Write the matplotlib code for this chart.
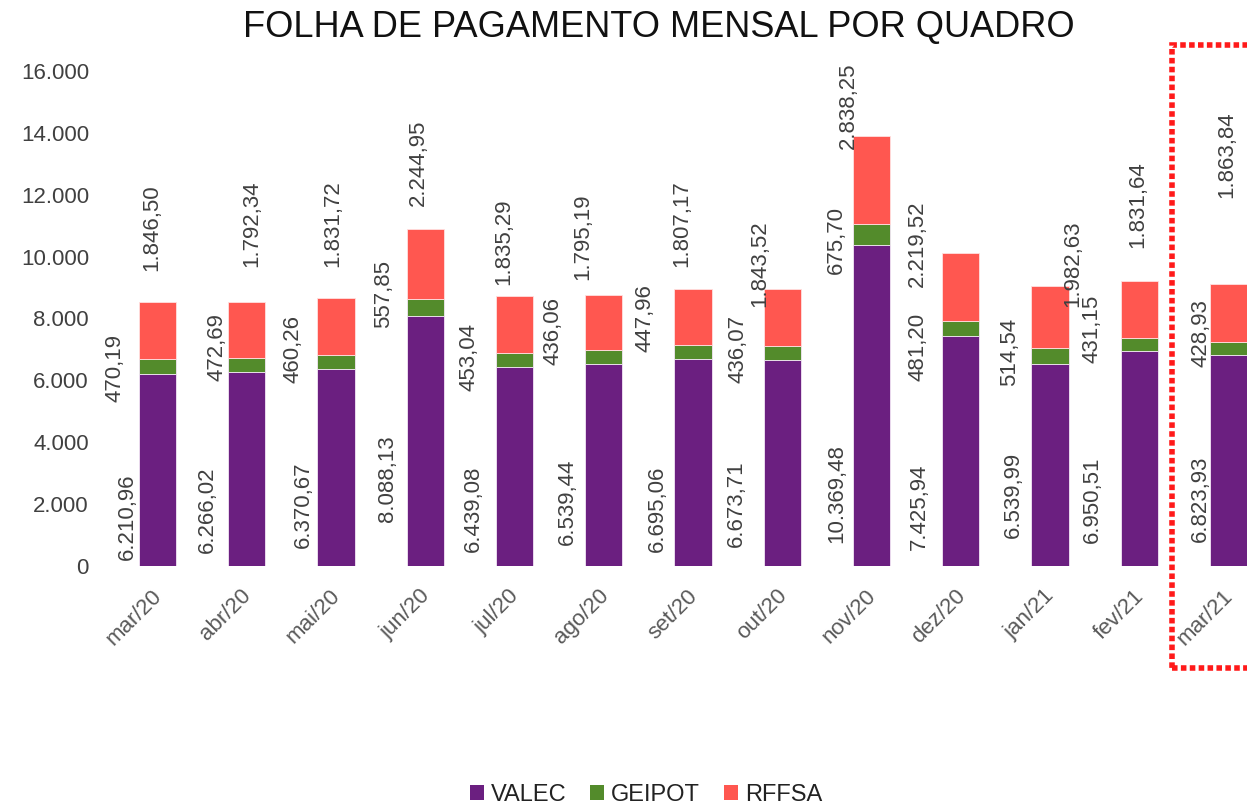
import matplotlib
matplotlib.use("Agg")
import matplotlib.pyplot as plt
from matplotlib.patches import Patch, Rectangle
from matplotlib.ticker import FuncFormatter
import matplotlib.transforms as mtransforms
import numpy as np

# ---- data ----
months = ["mar/20", "abr/20", "mai/20", "jun/20", "jul/20", "ago/20", "set/20",
          "out/20", "nov/20", "dez/20", "jan/21", "fev/21", "mar/21"]
valec = [6210.96, 6266.02, 6370.67, 8088.13, 6439.08, 6539.44, 6695.06,
         6673.71, 10369.48, 7425.94, 6539.99, 6950.51, 6823.93]
geipot = [470.19, 472.69, 460.26, 557.85, 453.04, 436.06, 447.96,
          436.07, 675.70, 481.20, 514.54, 431.15, 428.93]
rffsa = [1846.50, 1792.34, 1831.72, 2244.95, 1835.29, 1795.19, 1807.17,
         1843.52, 2838.25, 2219.52, 1982.63, 1831.64, 1863.84]
series_names = ["VALEC", "GEIPOT", "RFFSA"]
title = "FOLHA DE PAGAMENTO MENSAL POR QUADRO"

# ---- style / layout ----
colors = ["#6B1F80", "#538B2B", "#FF5750"]
# data-label nudges in pixels (manual label placement as in the original)
valec_lab_off = [(-30, 6), (-39, 13), (-33, 18), (-38, 44), (-41, 14), (-36, 21), (-36, 14),
                 (-46, 19), (-35, 23), (-41, 16), (-37, 28), (-47, 23), (-28, 24)]
geipot_lab_off = [(-42, -1), (-30, 18), (-43, 13), (-42, 13), (-46, 3), (-51, 26), (-48, 34),
                  (-44, 4), (-35, -5), (-43, -18), (-40, 4), (-47, 15), (-27, 15)]
rffsa_lab_off = [(-6, 31), (5, 35), (-3, 31), (-7, 23), (-11, 11), (-21, 15), (-11, 22),
                 (-22, -18), (-23, -13), (-43, -34), (23, -21), (-1, 33), (-2, 86)]

W, H = 1247, 809
plt.rcParams['font.family'] = ['Liberation Sans', 'DejaVu Sans']
fig = plt.figure(figsize=(W / 100, H / 100), dpi=100)

ax_left, ax_right = 100, 1247
ax_top, ax_bottom = 71, 566
ax = fig.add_axes([ax_left / W, (H - ax_bottom) / H,
                   (ax_right - ax_left) / W, (ax_bottom - ax_top) / H])

x = np.arange(len(months))
step = 89.25
first = 157.5
ax.set_xlim((ax_left - first) / step, (ax_right - first) / step)
ax.set_ylim(0, 16000)
bw = 0.415

v = np.array(valec); g = np.array(geipot); r = np.array(rffsa)
ax.bar(x, v, bw, color=colors[0], edgecolor="#F3E6F5", linewidth=0.6)
ax.bar(x, g, bw, bottom=v, color=colors[1], edgecolor="#F3E6F5", linewidth=0.6)
ax.bar(x, r, bw, bottom=v + g, color=colors[2], edgecolor="#FFE0E0", linewidth=0.6)

def br(val):
    s = f"{val:,.2f}"
    return s.replace(",", "X").replace(".", ",").replace("X", ".")

lab_kw = dict(rotation=90, fontsize=16, color="#404040", annotation_clip=False,
              textcoords="offset pixels", ha="center")
for i in x:
    ax.annotate(br(v[i]), xy=(i, 0), xytext=valec_lab_off[i], va="bottom", **lab_kw)
    ax.annotate(br(g[i]), xy=(i, v[i] + g[i] / 2), xytext=geipot_lab_off[i], va="center", **lab_kw)
    ax.annotate(br(r[i]), xy=(i, v[i] + g[i] + r[i]), xytext=rffsa_lab_off[i], va="bottom", **lab_kw)

ax.yaxis.set_major_formatter(FuncFormatter(lambda val, p: f"{int(val):,}".replace(",", ".")))
ax.set_yticks(np.arange(0, 16001, 2000))
ax.set_xticks(x)
ax.set_xticklabels(months, rotation=45, ha="right", rotation_mode="anchor")
ax.tick_params(axis="y", length=0, pad=8, labelsize=16, labelcolor="#404040")
ax.tick_params(axis="x", length=0, pad=14, labelsize=16, labelcolor="#595959")
offset = mtransforms.ScaledTranslation(-6 / 100, 0, fig.dpi_scale_trans)
for lab in ax.get_xticklabels():
    lab.set_transform(lab.get_transform() + offset)
for sp in ax.spines.values():
    sp.set_visible(False)

fig.text(659 / W, 1 - 28 / H, title,
         ha="center", va="center", fontsize=26, color="#111111")

handles = [Patch(facecolor=c, edgecolor="none") for c in colors]
fig.legend(handles, series_names, loc="center", bbox_to_anchor=(646 / W, (H - 795) / H),
           ncol=3, frameon=False, fontsize=17, handlelength=0.6, handleheight=0.6,
           handletextpad=0.3, columnspacing=1.0, labelcolor="#222222",
           borderpad=0, borderaxespad=0)

rect = Rectangle((1172 / W, 1 - 668 / H), (1249 - 1172) / W, (668 - 45) / H,
                 transform=fig.transFigure, fill=False, edgecolor="#FF1A1A",
                 linewidth=4, linestyle=(0, (1, 0.6)), clip_on=False)
fig.patches.append(rect)

fig.savefig("out.png", dpi=100)
